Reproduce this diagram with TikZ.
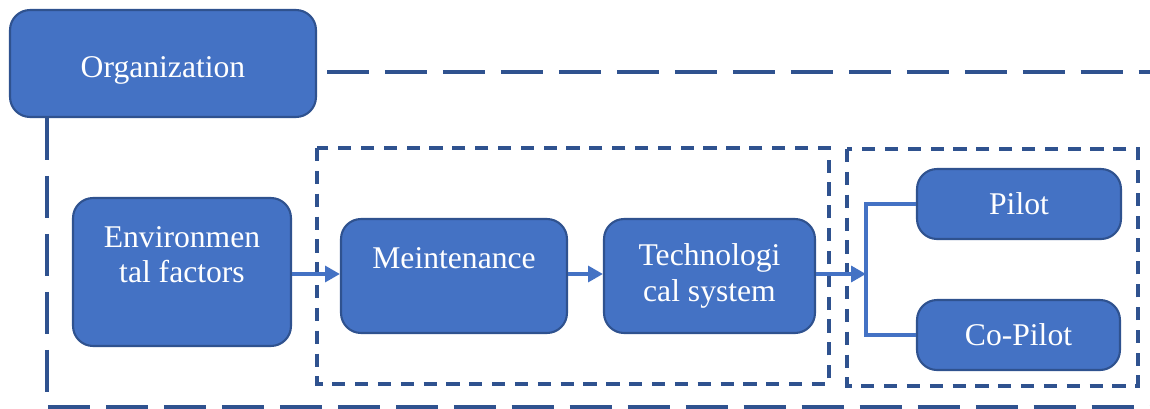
\documentclass[tikz,border=0pt]{standalone}
\usepackage{fontspec}
\setmainfont{Liberation Serif}
\definecolor{boxfill}{HTML}{4472C4}
\definecolor{boxline}{HTML}{2F528F}
\usetikzlibrary{arrows.meta}

\begin{document}
\begin{tikzpicture}[
    x=0.02cm, y=-0.02cm,
    every node/.style={draw=boxline, line width=1.2pt, fill=boxfill, rounded corners=0.4cm, inner sep=0pt, align=center, text=white, font=\fontsize{18}{20}\selectfont},
    outer/.style={draw=boxline, line width=2.8pt, dash pattern=on 24pt off 9pt},
    inner/.style={draw=boxline, line width=2pt, dash pattern=on 7.5pt off 5.5pt},
    arrow/.style={-{Triangle[length=8.5pt,width=9pt]}, draw=boxfill, line width=2.2pt},
    link/.style={draw=boxfill, line width=2pt}
  ]
    \useasboundingbox (0,0) rectangle (1150,409);

    % frames
    \draw[outer] (327,72) -- (1150,72);
    \draw[outer] (47,118) -- (47,407) -- (1150,407);
    \draw[inner] (317,148) rectangle (829,384);
    \draw[inner] (847,149) rectangle (1138,386);

    \node[minimum width=6.12cm, minimum height=2.14cm] (org) at (163,63.5) {\raisebox{-4pt}[\height][\depth]{Organization}};
    \node[minimum width=4.36cm, minimum height=2.96cm] (env) at (182,272) {Environmen\\tal factors\\~};
    \node[minimum width=4.52cm, minimum height=2.28cm] (maint) at (454,276) {Meintenance\\~};
    \node[minimum width=4.22cm, minimum height=2.28cm] (tech) at (709.5,276) {Technologi\\cal system};
    \node[minimum width=4.08cm, minimum height=1.4cm] (pilot) at (1019,204) {Pilot};
    \node[minimum width=4.06cm, minimum height=1.4cm] (copilot) at (1018.5,335) {Co-Pilot};

    \coordinate (split) at (866,274);
    \draw[arrow] (env.east |- split) -- (maint.west |- split);
    \draw[arrow] (maint.east |- split) -- (tech.west |- split);
    \draw[arrow] (tech.east |- split) -- (split);
    \draw[link] (pilot.west) -| (split) |- (copilot.west);
  \end{tikzpicture}
\end{document}
